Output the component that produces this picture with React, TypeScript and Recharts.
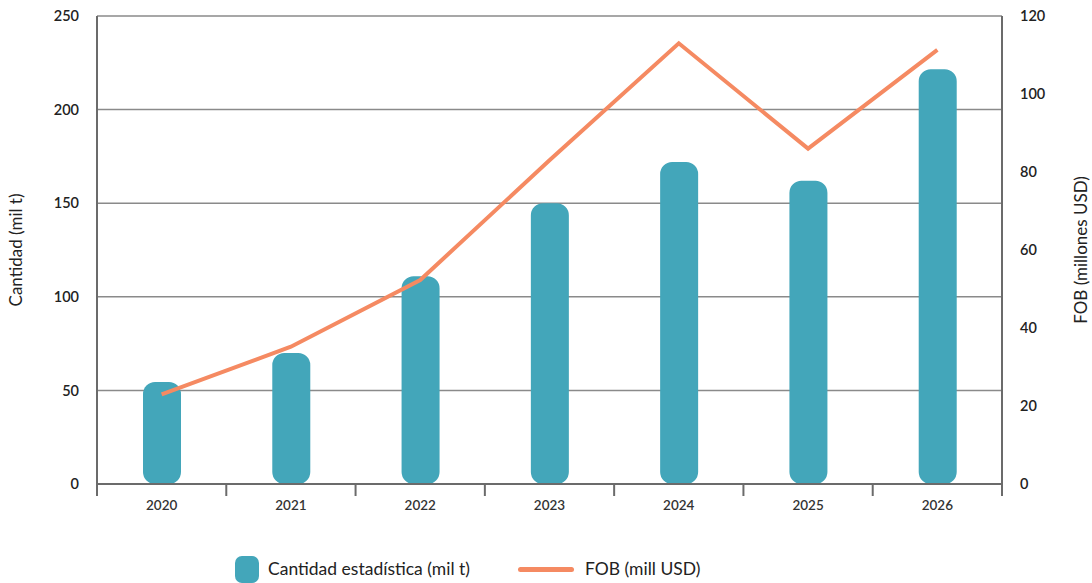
import React from "react";
import { ComposedChart, Bar, Line, XAxis, YAxis, CartesianGrid } from "recharts";

const years = ["2020", "2021", "2022", "2023", "2024", "2025", "2026"];
const cantidad = [54.5, 70, 111, 150, 172, 162, 221.5];
const fob = [23, 35.2, 52.3, 83, 113, 86, 111.3];
const leftTicks = [0, 50, 100, 150, 200, 250];
const rightTicks = [0, 20, 40, 60, 80, 100, 120];

const data = years.map((y, i) => ({ year: y, cantidad: cantidad[i], fob: fob[i] }));

const W = 1092;
const H = 583;
const M = { top: 16, right: 0, left: 0, bottom: 59 };
const LEFT_W = 97;
const RIGHT_W = 90;
const BAR_COLOR = "#43A6BA";
const LINE_COLOR = "#F58A62";
const AXIS_COLOR = "#6b6b6b";
const FONT = "Lato, 'Open Sans', sans-serif";

const plotW = W - LEFT_W - RIGHT_W;
const half = plotW / years.length / 2;

const XTick = (props: any) => {
  const { x, y, payload, index } = props;
  const isLast = index === years.length - 1;
  return (
    <g>
      <line x1={x - half} x2={x - half} y1={y} y2={y + 12} stroke={AXIS_COLOR} strokeWidth={2} />
      {isLast && (
        <line x1={x + half} x2={x + half} y1={y} y2={y + 12} stroke={AXIS_COLOR} strokeWidth={2} />
      )}
      <text x={x} y={y + 26} textAnchor="middle" fontSize={13.5} fontWeight={600} fill="#333" fontFamily={FONT}>
        {payload.value}
      </text>
    </g>
  );
};

const LeftLabel = (props: any) => {
  const vb = props.viewBox;
  const cy = vb.y + vb.height / 2;
  return (
    <text x={15} y={cy} transform={`rotate(-90 15 ${cy})`} textAnchor="middle" dominantBaseline="central" fontSize={17} fill="#222" fontFamily={FONT}>
      Cantidad (mil t)
    </text>
  );
};

const RightLabel = (props: any) => {
  const vb = props.viewBox;
  const cy = vb.y + vb.height / 2;
  return (
    <text x={1080} y={cy} transform={`rotate(-90 1080 ${cy})`} textAnchor="middle" dominantBaseline="central" fontSize={17} fill="#222" fontFamily={FONT}>
      FOB (millones USD)
    </text>
  );
};

export default function App() {
  return (
    <div style={{ position: "absolute", left: 0, top: 0, width: W, height: H, background: "#fff" }}>
      <ComposedChart width={W} height={H} data={data} margin={M}>
        <CartesianGrid vertical={false} stroke="#8a8a8a" strokeWidth={1.5} yAxisId="left" />
        <XAxis
          dataKey="year"
          axisLine={{ stroke: AXIS_COLOR, strokeWidth: 2 }}
          tickLine={false}
          tickSize={0}
          tickMargin={0}
          tick={<XTick />}
          height={40}
          interval={0}
        />
        <YAxis
          yAxisId="left"
          orientation="left"
          width={LEFT_W}
          domain={[0, 250]}
          ticks={leftTicks}
          tickLine={false}
          tickSize={0}
          tickMargin={18}
          axisLine={{ stroke: AXIS_COLOR, strokeWidth: 2 }}
          tick={{ fontSize: 14.5, fill: "#222", fontFamily: FONT, fontWeight: 600 }}
          label={<LeftLabel />}
        />
        <YAxis
          yAxisId="right"
          orientation="right"
          width={RIGHT_W}
          domain={[0, 120]}
          ticks={rightTicks}
          tickLine={false}
          tickSize={0}
          tickMargin={18}
          axisLine={{ stroke: AXIS_COLOR, strokeWidth: 2 }}
          tick={{ fontSize: 14.5, fill: "#222", fontFamily: FONT, fontWeight: 600, textAnchor: "start" }}
          label={<RightLabel />}
        />
        <Bar yAxisId="left" dataKey="cantidad" fill={BAR_COLOR} barSize={38} radius={12} isAnimationActive={false} />
        <Line yAxisId="right" dataKey="fob" type="linear" stroke={LINE_COLOR} strokeWidth={4} dot={false} activeDot={false} isAnimationActive={false} />
      </ComposedChart>
      <div
        style={{
          position: "absolute",
          top: 556,
          left: 0,
          width: W,
          fontFamily: FONT,
          fontSize: 17.5,
          color: "#222",
        }}
      >
        <div style={{ position: "absolute", left: 235, top: 0, width: 24, height: 27, borderRadius: 7, background: BAR_COLOR }} />
        <div style={{ position: "absolute", left: 268, top: 2, whiteSpace: "nowrap" }}>Cantidad estadística (mil t)</div>
        <div style={{ position: "absolute", left: 518, top: 11, width: 56, height: 5, borderRadius: 3, background: LINE_COLOR }} />
        <div style={{ position: "absolute", left: 585, top: 2, whiteSpace: "nowrap" }}>FOB (mill USD)</div>
      </div>
    </div>
  );
}
